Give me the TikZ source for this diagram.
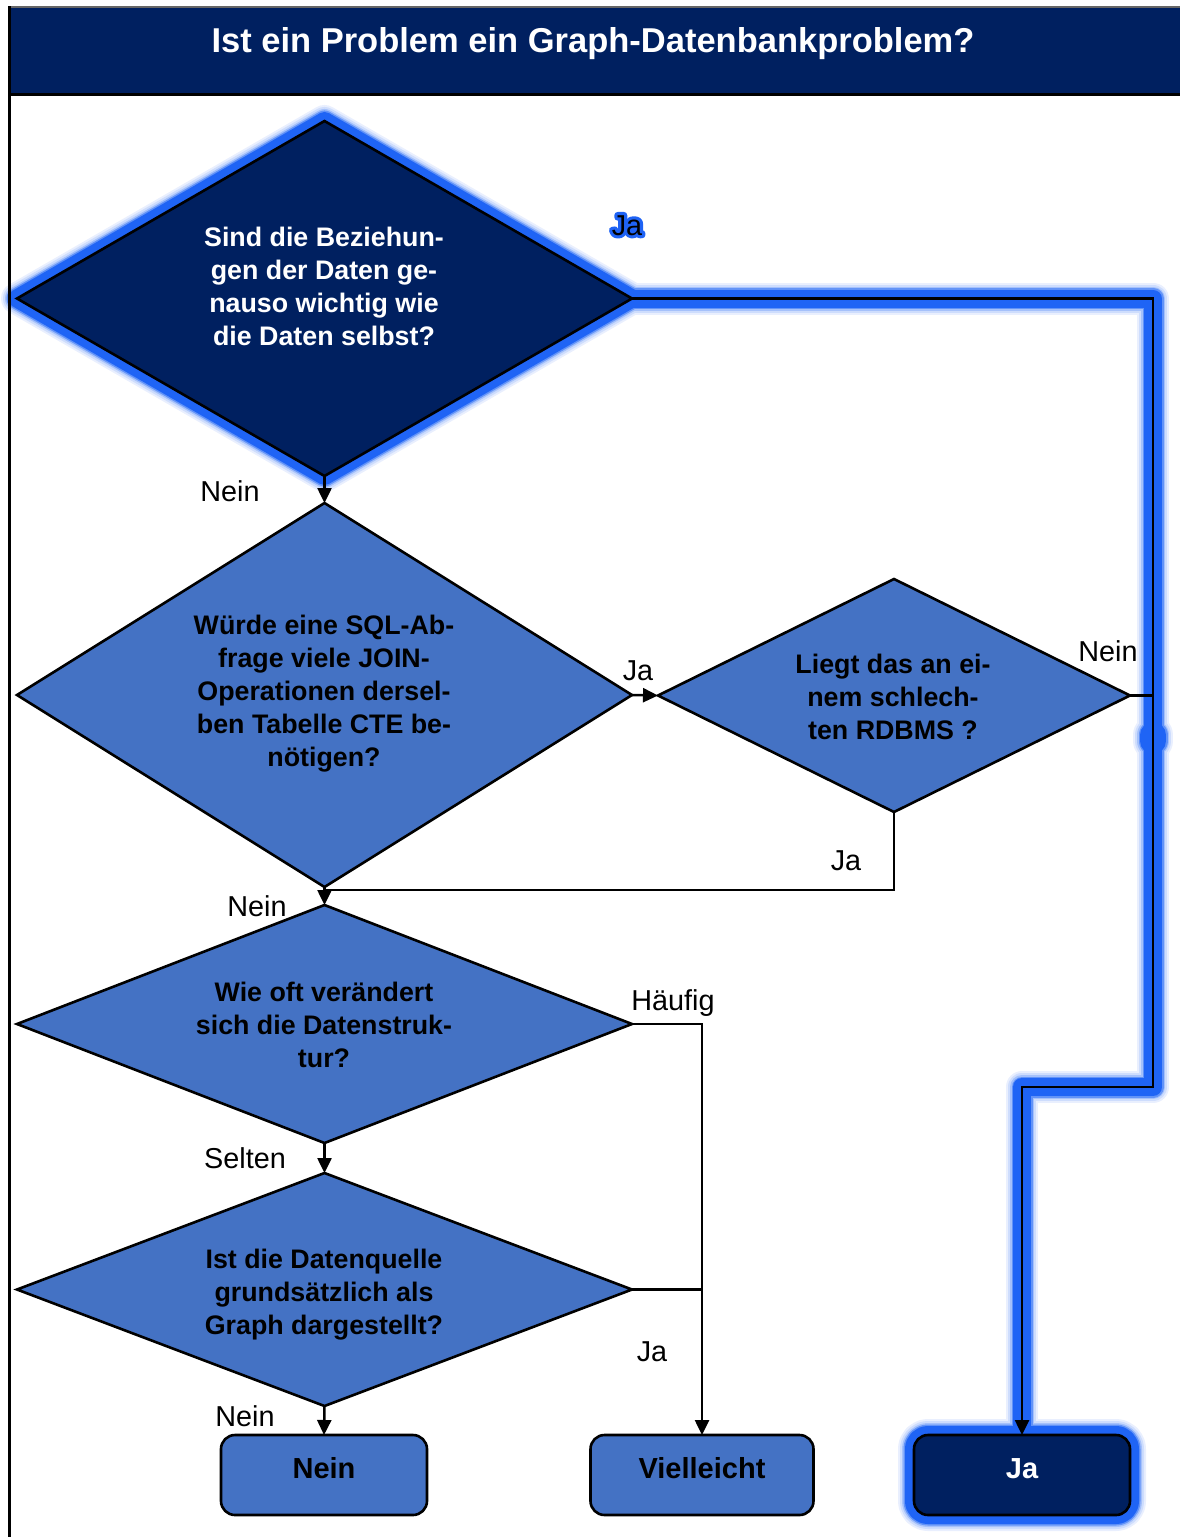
\documentclass[tikz,border=0pt]{standalone}
\usepackage{fontspec}
\setmainfont{Liberation Sans}
\usetikzlibrary{shapes.geometric,arrows.meta,calc}
\definecolor{navy}{RGB}{0,32,96}
\definecolor{midblue}{RGB}{68,114,196}
\definecolor{glowblue}{RGB}{31,100,245}
\pgfdeclarelayer{glow}
\pgfsetlayers{glow,main}
\newcommand\strokedtext[1]{\special{pdf:literal direct 1 Tr 3.2 w 1 j 0.12 0.39 0.96 RG}#1\special{pdf:literal direct 0 Tr}}
\begin{document}
\begin{tikzpicture}[x=0.5pt,y=-0.5pt,
  dia/.style={diamond, draw=black, line width=1.3pt, inner sep=0pt, outer sep=0pt},
  dtext/.style={align=center, font=\fontsize{13.4pt}{16.5pt}\selectfont\bfseries, inner sep=0pt},
  lbl/.style={font=\fontsize{14.4pt}{17pt}\selectfont, anchor=base, inner sep=0pt},
  endbox/.style={draw=black, line width=1.3pt, rounded corners=7pt, minimum height=40pt,
     inner sep=0pt, outer sep=0pt, font=\fontsize{14.5pt}{17pt}\selectfont\bfseries,
     text height=10.4pt, text depth=7pt},
  conn/.style={line width=1.25pt, draw=black},
  arr/.style={conn, -{Triangle[length=7.5pt,width=7pt]}},
  glowline/.style={line join=round, line cap=round}
]
\useasboundingbox (0,0) rectangle (1179,1537);
% frame
\fill[navy] (9,7) rectangle (1200,94);
\draw[black!60, line width=1pt] (9,7) -- (1200,7);
\draw[black, line width=1.5pt] (9,94) -- (1200,94);
\draw[black, line width=1.5pt] (9,6) -- (9,1560);
\node[font=\fontsize{17.25pt}{20pt}\selectfont\bfseries, text=white, anchor=base, inner sep=0pt]
  (title) at (593,52) {Ist ein Problem ein Graph-Datenbankproblem?};

% diamonds
\node[dia, fill=navy, minimum width=307.5pt, minimum height=177.5pt] (D1) at (324.5,298.5) {};
\node[dtext, text=white] (T1) at (324,286) {Sind die Beziehun-\\gen der Daten ge-\\nauso wichtig wie\\die Daten selbst?};
\node[dia, fill=midblue, minimum width=307.5pt, minimum height=192pt] (D2) at (324.5,695) {};
\node[dtext] (T2) at (324,694) {Würde eine SQL-Ab-\\frage viele JOIN-\\Operationen dersel-\\ben Tabelle CTE be-\\nötigen?};
\node[dia, fill=midblue, minimum width=236pt, minimum height=116.5pt] (D3) at (894,695.5) {};
\node[dtext] (T3) at (893,697) {Liegt das an ei-\\nem schlech-\\ten RDBMS ?};
\node[dia, fill=midblue, minimum width=307.5pt, minimum height=119pt] (D4) at (324.5,1024) {};
\node[dtext] (T4) at (324,1025) {Wie oft verändert\\sich die Datenstruk-\\tur?};
\node[dia, fill=midblue, minimum width=307.5pt, minimum height=116.5pt] (D5) at (324.5,1289.5) {};
\node[dtext] (T5) at (324,1295) {Ist die Datenquelle\\grundsätzlich als\\Graph dargestellt?};

% end boxes
\node[endbox, fill=midblue, minimum width=103pt] (N) at (324,1475) {Nein};
\node[endbox, fill=midblue, minimum width=111.5pt] (V) at (702,1475) {Vielleicht};
\node[endbox, fill=navy, text=white, minimum width=108pt] (J) at (1022,1475) {Ja};

% junction coordinates
\coordinate (c2) at (1153,1087);
\coordinate (j1) at (324,890);
\coordinate (gb) at (1153,738);

% glow layer (opaque pre-mixed tints, widest first)
\begin{pgfonlayer}{glow}
\foreach \w/\t in {16pt/10,14pt/22,12pt/40,10.5pt/70,9pt/100}{
  \draw[glowline, glowblue!\t, line width=\w] (D1.north) -- (D1.east) -- (D1.south) -- (D1.west) -- cycle;
  \draw[glowline, glowblue!\t, line width=\w] (D1.east) -| (c2) -| (J.north);
  \draw[glowline, glowblue!\t, line width=\w, rounded corners=7pt] (J.south west) rectangle (J.north east);
  \draw[glowline, glowblue!\t, line width=\w+4pt] ($(gb)+(0,-3)$) -- ($(gb)+(0,3)$);
}
\end{pgfonlayer}

% connectors
\draw[arr] (D1.south) -- (D2.north);
\draw[arr] (D1.east) -| (c2) -| (J.north);
\draw[arr] (D2.east) -- (D3.west);
\draw[conn] (D3.east) -- (D3.east -| c2);
\draw[conn] (D3.south) |- (j1);
\draw[arr] (D2.south) -- (D4.north);
\draw[arr] (D4.east) -| (V.north);
\draw[conn] (D5.east) -- (D5.east -| V.north);
\draw[arr] (D4.south) -- (D5.north);
\draw[arr] (D5.south) -- (N.north);

% labels
\node[lbl] (L1g) at (627,235) {\strokedtext{Ja}};
\node[lbl] (L1) at (627,235) {Ja};
\node[lbl] (L2) at (230,501) {Nein};
\node[lbl] (L3) at (638,680) {Ja};
\node[lbl] (L4) at (1108,661) {Nein};
\node[lbl] (L5) at (846,870) {Ja};
\node[lbl] (L6) at (257,916) {Nein};
\node[lbl] (L7) at (673,1010) {Häufig};
\node[lbl] (L8) at (245,1168) {Selten};
\node[lbl] (L9) at (652,1361) {Ja};
\node[lbl] (L10) at (245,1426) {Nein};
\end{tikzpicture}
\end{document}
